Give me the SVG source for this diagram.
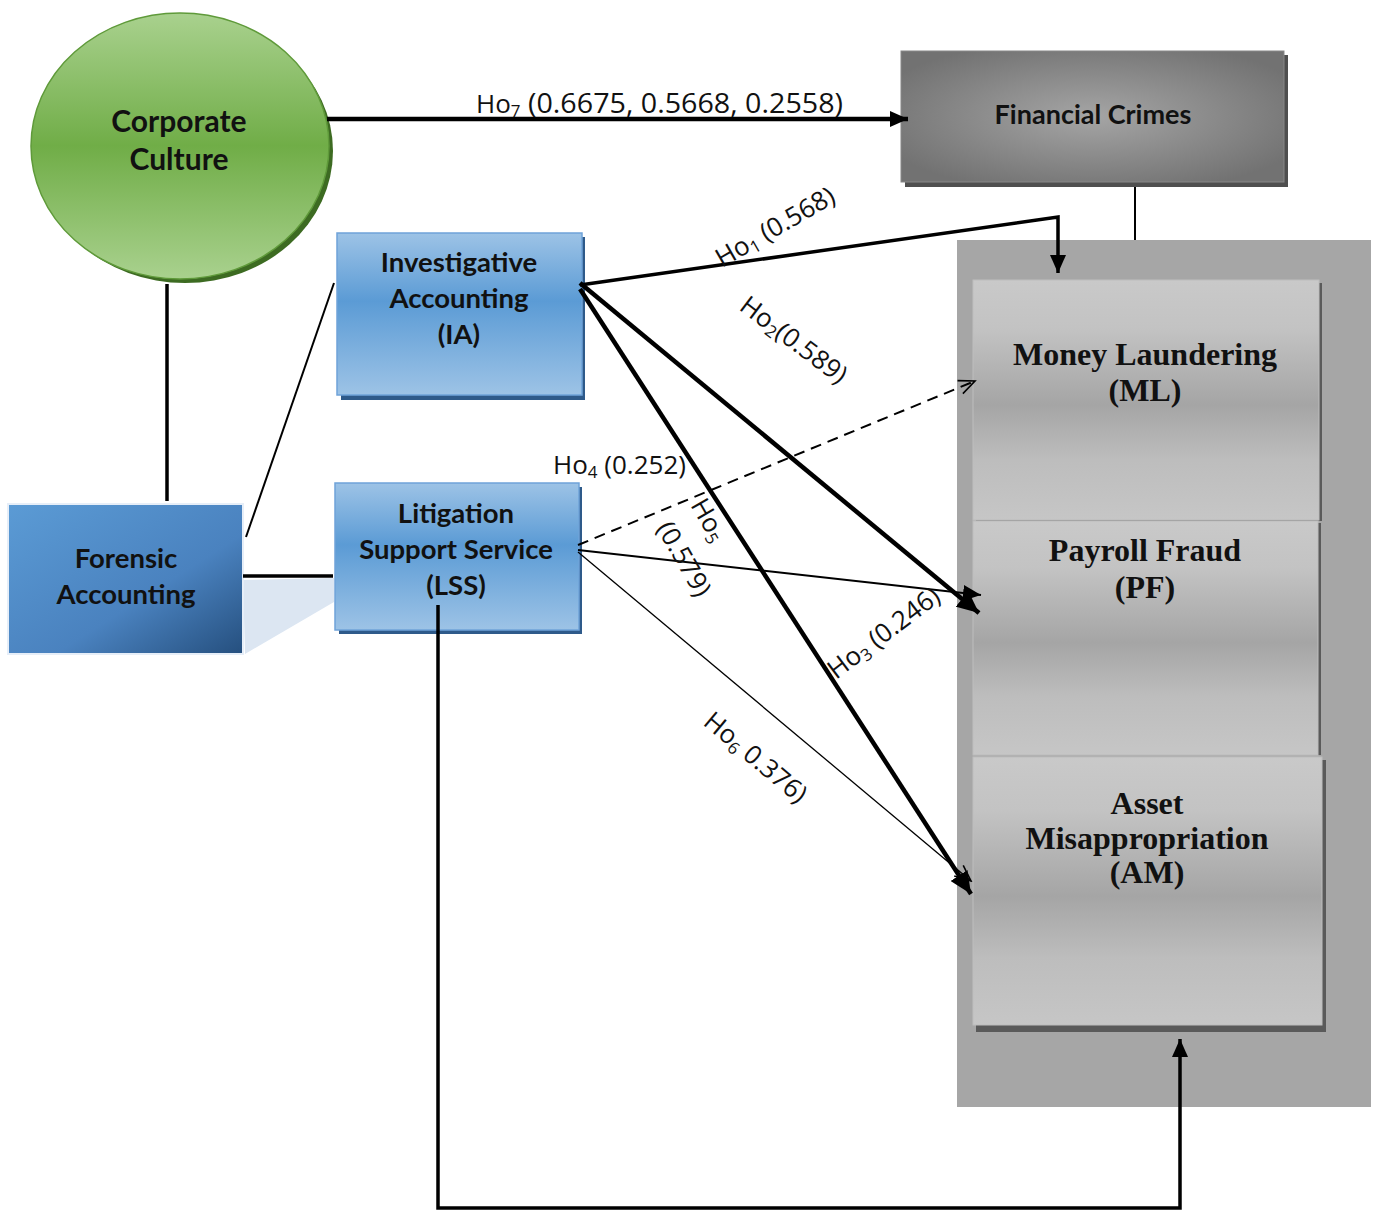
<svg xmlns="http://www.w3.org/2000/svg" width="1373" height="1211" viewBox="0 0 1373 1211">
<style>
.node{font-family:Lato,"Open Sans","Liberation Sans",sans-serif;font-weight:bold;fill:#111;text-anchor:middle}
.ser{font-family:"Liberation Serif","Times New Roman",serif;font-weight:bold;fill:#111;text-anchor:middle;font-size:32px}
.lbl{font-family:"Open Sans","Liberation Sans",sans-serif;fill:#111}
.thick{stroke:#000;stroke-width:4.5;fill:none}
.med{stroke:#000;stroke-width:3.5;fill:none}
.thin{stroke:#000;stroke-width:2;fill:none}
.hair{stroke:#000;stroke-width:1.3;fill:none}
</style>
<defs>
<linearGradient id="gGreen" x1="0" y1="0" x2="0" y2="1">
<stop offset="0" stop-color="#a9d18e"/><stop offset="0.5" stop-color="#70ad47"/><stop offset="1" stop-color="#a9d18e"/>
</linearGradient>
<linearGradient id="gBlue" x1="0" y1="0" x2="0" y2="1">
<stop offset="0" stop-color="#9dc3e6"/><stop offset="0.42" stop-color="#5b9bd5"/><stop offset="1" stop-color="#9dc3e6"/>
</linearGradient>
<linearGradient id="gFA" x1="0" y1="0" x2="1" y2="1">
<stop offset="0" stop-color="#5b9bd5"/><stop offset="0.6" stop-color="#4a82bf"/><stop offset="1" stop-color="#254f7e"/>
</linearGradient>
<radialGradient id="gFC" cx="0.5" cy="0.5" r="0.6">
<stop offset="0" stop-color="#a5a5a5"/><stop offset="1" stop-color="#727272"/>
</radialGradient>
<linearGradient id="gGray" x1="0" y1="0" x2="0" y2="1">
<stop offset="0" stop-color="#c9c9c9"/><stop offset="0.2" stop-color="#c3c3c3"/><stop offset="0.52" stop-color="#a5a5a5"/><stop offset="0.75" stop-color="#bdbdbd"/><stop offset="1" stop-color="#c6c6c6"/>
</linearGradient>
<marker id="aBig" markerUnits="userSpaceOnUse" markerWidth="24" markerHeight="20" refX="22" refY="10" orient="auto">
<path d="M0,0 L22,10 L0,20 Z" fill="#000"/>
</marker>
<marker id="aMed" markerUnits="userSpaceOnUse" markerWidth="20" markerHeight="16" refX="18" refY="8" orient="auto">
<path d="M0,0 L18,8 L0,16 Z" fill="#000"/>
</marker>
<marker id="aOpen" markerUnits="userSpaceOnUse" markerWidth="20" markerHeight="18" refX="18" refY="9" orient="auto">
<path d="M2,2 L18,9 L2,16" fill="none" stroke="#000" stroke-width="1.6"/>
</marker>
</defs>
<rect width="1373" height="1211" fill="#fff"/>

<g id="outcome-panel">
<rect x="957" y="240" width="414" height="867" fill="#a6a6a6"/>
</g>

<g id="money-laundering">
<rect x="976" y="283" width="346" height="238" fill="#5a5a5a"/>
<rect x="973" y="280" width="346" height="240" fill="url(#gGray)" stroke="#bdbdbd" stroke-width="1"/>
<text class="ser" x="1145" y="365">Money Laundering</text>
<text class="ser" x="1145" y="401">(ML)</text>
</g>
<g id="payroll-fraud">
<rect x="976" y="523" width="345" height="232" fill="#5a5a5a"/>
<rect x="973" y="521" width="345" height="234" fill="url(#gGray)" stroke="#bdbdbd" stroke-width="1"/>
<text class="ser" x="1145" y="561">Payroll Fraud</text>
<text class="ser" x="1145" y="598">(PF)</text>
</g>
<g id="asset-misappropriation">
<rect x="976" y="760" width="350" height="272" fill="#5a5a5a"/>
<rect x="973" y="757" width="349" height="268" fill="url(#gGray)" stroke="#bdbdbd" stroke-width="1"/>
<text class="ser" x="1147" y="814">Asset</text>
<text class="ser" x="1147" y="849">Misappropriation</text>
<text class="ser" x="1147" y="883">(AM)</text>
</g>

<g id="corporate-culture">
<ellipse cx="185" cy="151" rx="148" ry="132" fill="#3d6b22"/>
<ellipse cx="180" cy="146" rx="149" ry="133" fill="url(#gGreen)" stroke="#5f9a3a" stroke-width="1.5"/>
<text class="node" x="179" y="132" font-size="30">Corporate</text>
<text class="node" x="179" y="170" font-size="30">Culture</text>
</g>

<g id="financial-crimes">
<rect x="905" y="55" width="383" height="132" fill="#4f4f4f"/>
<rect x="901" y="51" width="383" height="131" fill="url(#gFC)" stroke="#888" stroke-width="1"/>
<text class="node" x="1093" y="124" font-size="27">Financial Crimes</text>
</g>

<g id="forensic-accounting">
<polygon points="243,580 334,578 334,602 245,654" fill="#dce6f2"/>
<rect x="8" y="504" width="235" height="150" fill="url(#gFA)" stroke="#e6eef8" stroke-width="2"/>
<text class="node" x="126" y="568" font-size="27.5">Forensic</text>
<text class="node" x="126" y="604" font-size="27.5">Accounting</text>
</g>

<g id="investigative-accounting">
<rect x="341" y="237" width="244" height="163" fill="#2e5a8a"/>
<rect x="337" y="233" width="245" height="162" fill="url(#gBlue)" stroke="#6fa3d9" stroke-width="1.5"/>
<text class="node" x="459" y="272" font-size="27.5">Investigative</text>
<text class="node" x="459" y="308" font-size="27.5">Accounting</text>
<text class="node" x="459" y="344" font-size="27.5">(IA)</text>
</g>

<g id="litigation-support-service">
<rect x="339" y="487" width="243" height="147" fill="#2e5a8a"/>
<rect x="335" y="483" width="244" height="147" fill="url(#gBlue)" stroke="#6fa3d9" stroke-width="1.5"/>
<text class="node" x="456" y="523" font-size="27.5">Litigation</text>
<text class="node" x="456" y="559" font-size="27.5">Support Service</text>
<text class="node" x="456" y="595" font-size="27.5">(LSS)</text>
</g>

<g id="connectors">
<line class="thick" x1="327" y1="119" x2="908" y2="119" marker-end="url(#aMed)"/>
<line class="thin" x1="1135" y1="187" x2="1135" y2="240"/>
<line class="med" x1="167" y1="284" x2="167" y2="501"/>
<line class="med" x1="243" y1="576" x2="333" y2="576"/>
<line class="thin" x1="246" y1="537" x2="334" y2="283"/>
<polyline class="med" points="580,285 1058,217 1058,273" marker-end="url(#aMed)"/>
<line class="thick" x1="580" y1="283" x2="979" y2="613" marker-end="url(#aBig)"/>
<line class="thick" x1="580" y1="289" x2="971" y2="894" marker-end="url(#aBig)"/>
<line stroke="#000" stroke-width="2" stroke-dasharray="11,7" x1="578" y1="545" x2="975" y2="381" marker-end="url(#aOpen)"/>
<line class="thin" x1="578" y1="550" x2="981" y2="595" marker-end="url(#aMed)"/>
<line class="hair" x1="578" y1="552" x2="971" y2="881" marker-end="url(#aOpen)"/>
<polyline class="med" points="438,605 438,1208 1180,1208 1180,1039" marker-end="url(#aMed)"/>
</g>

<g id="labels">
<text class="lbl" x="476" y="113" font-size="26">Ho<tspan font-size="17" dy="4">7</tspan></text>
<text class="lbl" x="528" y="113" font-size="27" textLength="315" lengthAdjust="spacingAndGlyphs">(0.6675, 0.5668, 0.2558)</text>
<text class="lbl" font-size="26" transform="translate(722,268) rotate(-30)">Ho<tspan font-size="17" dy="4">1</tspan><tspan dy="-4"> (0.568)</tspan></text>
<text class="lbl" font-size="26" transform="translate(738,309) rotate(37)">Ho<tspan font-size="17" dy="4">2</tspan><tspan dy="-4">(0.589)</tspan></text>
<text class="lbl" font-size="26" transform="translate(836,680) rotate(-37)">Ho<tspan font-size="17" dy="4">3</tspan><tspan dy="-4"> (0.246)</tspan></text>
<text class="lbl" font-size="26" x="553" y="474">Ho<tspan font-size="17" dy="4">4</tspan><tspan dy="-4"> (0.252)</tspan></text>
<text class="lbl" font-size="26" transform="translate(690,505) rotate(60)">Ho<tspan font-size="17" dy="4">5</tspan></text>
<text class="lbl" font-size="26" transform="translate(656,528) rotate(60)">(0.579)</text>
<text class="lbl" font-size="26" transform="translate(702,724) rotate(40)">Ho<tspan font-size="17" dy="4">6</tspan><tspan dy="-4"> 0.376)</tspan></text>
</g>
</svg>
